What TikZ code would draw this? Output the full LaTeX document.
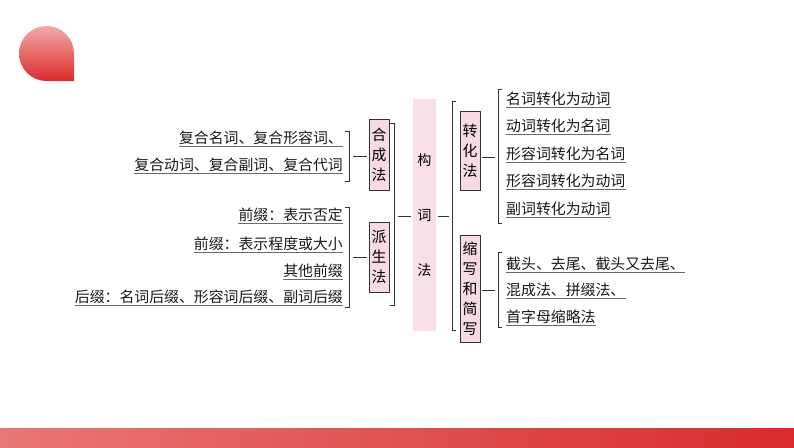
\documentclass[tikz,border=0pt]{standalone}
\usepackage{fontspec}
\newfontfamily\cjk{Noto Sans CJK SC}
\usetikzlibrary{positioning}

\definecolor{boxpink}{HTML}{F8DAE3}
\definecolor{stempink}{HTML}{F9DFE7}
\definecolor{inkgray}{HTML}{333333}
\definecolor{ulgray}{HTML}{6A6A6A}
\definecolor{droptop}{HTML}{F2A9A9}
\definecolor{dropbot}{HTML}{DC2B2B}
\definecolor{barleft}{HTML}{E97777}
\definecolor{barright}{HTML}{D92B2B}

\tikzset{
    itemtext/.style={font=\cjk\fontsize{12.7}{15}\selectfont, text=black!90, inner sep=0pt},
    leftitem/.style={itemtext, anchor=base east},
    rightitem/.style={itemtext, anchor=base west},
    catbox/.style={draw=inkgray, line width=0.7pt, fill=boxpink, minimum width=0.6cm, inner sep=0pt, align=center, font=\cjk\fontsize{12.7}{17}\selectfont},
    stembox/.style={fill=stempink, minimum width=0.69cm, minimum height=6.96cm, inner sep=0pt, align=center, font=\cjk\fontsize{12}{47}\selectfont},
    brk/.style={draw=inkgray, line width=0.7pt},
    link/.style={draw=inkgray, line width=0.7pt},
    linkl/.style={link, shorten <=3.4pt, shorten >=1.7pt},
    linkr/.style={link, shorten <=1.7pt, shorten >=2.5pt},
    uline/.style={draw=ulgray, line width=0.6pt},
}

\begin{document}
\begin{tikzpicture}[x=0.03cm, y=-0.03cm]
    \useasboundingbox (0,0) rectangle (794,447);

    % Drop in the corner and bar at the bottom
    \shade[top color=droptop, bottom color=dropbot] (46.5,81) arc[start angle=90, end angle=360, radius=27.5] -- (74,81) -- cycle;
    \shade[left color=barleft, right color=barright] (0,428) rectangle (794,447);

    % Stem
    \node[stembox] (stem) at (424.5,215) {构\\词\\法};

    % Boxes for the four ways
    \node[catbox, minimum height=2.13cm] (hecheng) at (379,154.5) {合\\成\\法};
    \node[catbox, minimum height=2.1cm] (paisheng) at (379,257) {派\\生\\法};
    \node[catbox, minimum height=2.37cm] (zhuanhua) at (470,150.5) {转\\化\\法};
    \node[catbox, minimum height=3.21cm] (suoxie) at (470,288.5) {缩\\写\\和\\简\\写};

    % Items on the left
    \node[leftitem] (hc1) at (343,143) {复合名词、复合形容词、};
    \node[leftitem] (hc2) at (343,170) {复合动词、复合副词、复合代词};
    \node[leftitem] (ps1) at (343,220) {前缀：表示否定};
    \node[leftitem] (ps2) at (343,249) {前缀：表示程度或大小};
    \node[leftitem] (ps3) at (343,276) {其他前缀};
    \node[leftitem] (ps4) at (343,302) {后缀：名词后缀、形容词后缀、副词后缀};

    % Items on the right
    \node[rightitem] (zh1) at (506,104) {名词转化为动词};
    \node[rightitem] (zh2) at (506,131.5) {动词转化为名词};
    \node[rightitem] (zh3) at (506,159) {形容词转化为名词};
    \node[rightitem] (zh4) at (506,186.5) {形容词转化为动词};
    \node[rightitem] (zh5) at (506,214) {副词转化为动词};
    \node[rightitem] (sx1) at (506,269) {截头、去尾、截头又去尾、};
    \node[rightitem] (sx2) at (506,295) {混成法、拼缀法、};
    \node[rightitem] (sx3) at (506,322) {首字母缩略法};

    % Underlines
    \foreach \n in {hc1,hc2,ps1,ps2,ps3,ps4,zh1,zh2,zh3,zh4,zh5,sx1,sx2,sx3}
        \draw[uline] ([yshift=-2.6pt]\n.base west) -- ([yshift=-2.6pt]\n.base east);

    % Brackets
    \draw[brk] (345,131) -- (349,131) -- (349,181) -- (345,181);
    \coordinate (hcb) at (349,156);
    \draw[brk] (345,207) -- (349,207) -- (349,307) -- (345,307);
    \coordinate (psb) at (349,257);
    \draw[brk] (390,123) -- (394,123) -- (394,305) -- (390,305);
    \coordinate (lb) at (394,216);
    \draw[brk] (456,101) -- (452,101) -- (452,330) -- (456,330);
    \coordinate (rb) at (452,216);
    \draw[brk] (502,89) -- (498,89) -- (498,223) -- (502,223);
    \coordinate (zhb) at (498,157);
    \draw[brk] (502,252) -- (498,252) -- (498,327) -- (502,327);
    \coordinate (sxb) at (498,290);

    % Connectors
    \draw[linkl] (hcb) -- (hecheng.west |- hcb);
    \draw[linkl] (psb) -- (paisheng.west |- psb);
    \draw[linkl] (lb) -- (stem.west |- lb);
    \draw[linkr] (stem.east |- rb) -- (rb);
    \draw[linkr] (zhuanhua.east |- zhb) -- (zhb);
    \draw[linkr] (suoxie.east |- sxb) -- (sxb);
\end{tikzpicture}
\end{document}
